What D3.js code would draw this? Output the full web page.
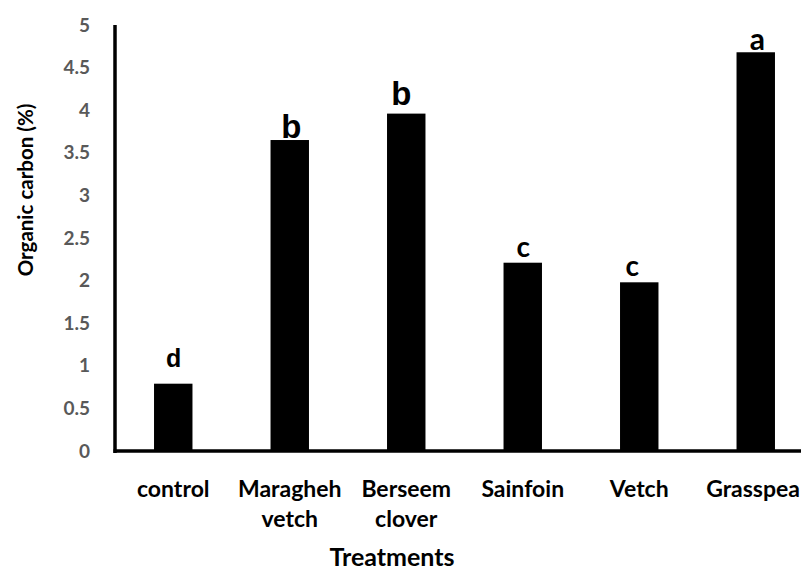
<!DOCTYPE html>
<html>
<head>
<meta charset="utf-8">
<script src="https://cdn.jsdelivr.net/npm/d3@7"></script>
<style>
  html, body { margin: 0; padding: 0; background: #fff; }
  svg { display: block; }
</style>
</head>
<body>
<svg id="chart" width="801" height="573"></svg>
<script>
// ---- data ----
const categories = ["control", "Maragheh vetch", "Berseem clover", "Sainfoin", "Vetch", "Grasspea"];
const values = [0.79, 3.65, 3.96, 2.21, 1.98, 4.68];
const letters = ["d", "b", "b", "c", "c", "a"];
const yTicks = [0, 0.5, 1, 1.5, 2, 2.5, 3, 3.5, 4, 4.5, 5];
const yTitle = "Organic carbon (%)";
const xTitle = "Treatments";

// ---- layout ----
const W = 801;
const svg = d3.select("#chart");
const x0 = 115, xEnd = 814, yBase = 451, yTop = 25;
const x = d3.scaleBand().domain(categories).range([x0, xEnd]).paddingInner(0.67).paddingOuter(0.335);
const y = d3.scaleLinear().domain([0, 5]).range([yBase, yTop]);

// bars
svg.selectAll("rect.bar").data(values).join("rect")
  .attr("class", "bar")
  .attr("x", (d, i) => x(categories[i]))
  .attr("y", d => y(d))
  .attr("width", x.bandwidth())
  .attr("height", d => yBase - y(d))
  .attr("fill", "#000");

// y axis (labels only, line drawn separately)
const yAxis = d3.axisLeft(y).tickValues(yTicks).tickSize(0).tickPadding(25)
  .tickFormat(d => String(d));
const gy = svg.append("g").attr("transform", `translate(${x0},0)`).call(yAxis);
gy.select(".domain").remove();
gy.selectAll("text")
  .attr("font-family", "Lato, 'Open Sans', sans-serif")
  .attr("font-weight", "bold")
  .attr("font-size", 19)
  .attr("fill", "#595959");

// axis lines
svg.append("line").attr("x1", x0).attr("x2", x0).attr("y1", yTop).attr("y2", yBase + 2)
  .attr("stroke", "#000").attr("stroke-width", 3.5);
svg.append("line").attr("x1", x0 - 1.5).attr("x2", W).attr("y1", yBase).attr("y2", yBase)
  .attr("stroke", "#000").attr("stroke-width", 3.5);

// x category labels
const xl = svg.append("g");
categories.forEach((c, i) => {
  const words = c.split(" ");
  const cx = x(c) + x.bandwidth() / 2;
  const t = xl.append("text")
    .attr("y", 497)
    .attr("text-anchor", "middle")
    .attr("font-family", "Lato, 'Open Sans', sans-serif")
    .attr("font-weight", "bold")
    .attr("font-size", 23)
    .attr("fill", "#000");
  words.forEach((w, j) => {
    const ts = t.append("tspan").attr("x", cx).attr("dy", j === 0 ? 0 : 30).text(w);
    const len = ts.node().getComputedTextLength();
    if (cx + len / 2 > W - 1) ts.attr("x", W - 1 - len / 2);
  });
});

// significance letters
const letterDy = [-17, -2, -9, -6, -6, -2];
const letterDx = [0.5, 1.5, -5, 0.5, -7, 1.5];
const letterFont = ["Liberation Sans", "Liberation Sans", "Liberation Sans", "Lato", "Lato", "Lato"];
const letterSize = [25, 33, 33, 28, 28, 30];
svg.selectAll("text.sig").data(values).join("text")
  .attr("class", "sig")
  .attr("x", (d, i) => x(categories[i]) + x.bandwidth() / 2 + letterDx[i])
  .attr("y", (d, i) => y(d) + letterDy[i])
  .attr("text-anchor", "middle")
  .attr("font-family", (d, i) => letterFont[i])
  .attr("font-weight", "bold")
  .attr("font-size", (d, i) => letterSize[i])
  .attr("fill", "#000")
  .text((d, i) => letters[i]);

// axis titles
svg.append("text")
  .attr("transform", `translate(33,190) rotate(-90)`)
  .attr("text-anchor", "middle")
  .attr("font-family", "Lato, 'Open Sans', sans-serif")
  .attr("font-weight", "bold")
  .attr("font-size", 20.5)
  .attr("fill", "#000")
  .text(yTitle);

svg.append("text")
  .attr("x", 392)
  .attr("y", 566)
  .attr("text-anchor", "middle")
  .attr("font-family", "Lato, 'Open Sans', sans-serif")
  .attr("font-weight", "bold")
  .attr("font-size", 25)
  .attr("fill", "#000")
  .text(xTitle);
</script>
</body>
</html>
